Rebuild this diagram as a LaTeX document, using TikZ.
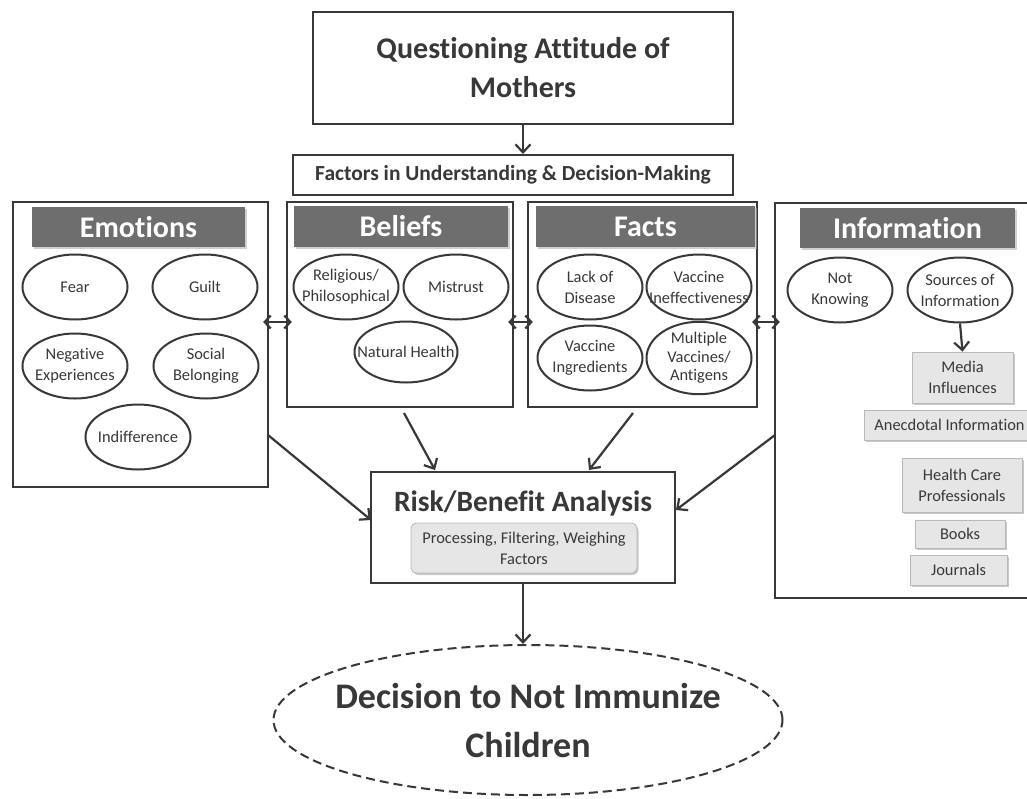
\documentclass[tikz,border=0pt]{standalone}
\usepackage{fontspec}
\setmainfont{Carlito}[Ligatures=NoCommon]
\usetikzlibrary{arrows.meta,shapes.geometric,shadows,calc}
\definecolor{ink}{HTML}{383838}
\definecolor{hdr}{HTML}{6E6E6E}
\definecolor{sub}{HTML}{E6E6E6}
\newcommand{\zw}[1]{\makebox[0pt]{#1}}
\tikzset{
  box/.style={draw=ink, line width=2.4pt, fill=white, inner sep=0pt},
  hdrbox/.style={fill=hdr, text=white, font=\bfseries\fontsize{30}{34}\selectfont, inner sep=0pt,
     drop shadow={shadow xshift=1.5pt, shadow yshift=-2pt, fill=gray!60, opacity=0.6}},
  oval/.style={ellipse, draw=ink, line width=2pt, inner sep=0pt, minimum width=105, minimum height=65,
     align=center, font=\fontsize{16.4}{21}\selectfont, text=ink},
  subbox/.style={draw=gray!55, line width=0.8pt, fill=sub, inner sep=0pt, align=center,
     font=\fontsize{16.4}{21}\selectfont, text=ink,
     drop shadow={shadow xshift=1.5pt, shadow yshift=-2pt, fill=gray!60, opacity=0.7}},
  arr/.style={draw=ink, line width=2.2pt, -{Straight Barb[length=8pt,width=15pt,line width=2.2pt]}},
  dbl/.style={draw=ink, line width=2.2pt, {Straight Barb[length=6pt,width=13pt,line width=2.2pt]}-{Straight Barb[length=6pt,width=13pt,line width=2.2pt]}},
}
\begin{document}
\begin{tikzpicture}[x=1pt,y=-1pt]
\clip (0,0) rectangle (1027,798);
\useasboundingbox (0,0) rectangle (1027,798);
\fill[white] (0,0) rectangle (1027,798);

% top
\node[box, minimum width=420, minimum height=112, align=center, text=ink,
      font=\bfseries\fontsize{30}{39}\selectfont] (top) at (523,68) {Questioning Attitude of\\Mothers};
\node[box, line width=2pt, minimum width=440, minimum height=40, text=ink,
      font=\bfseries\fontsize{21.5}{24}\selectfont] (factors) at (513,175) {Factors in Understanding \& Decision-Making};
\draw[arr] (top.south) -- (top.south |- factors.north);

% category boxes
\node[box, minimum width=255, minimum height=285] (emo) at (140.5,344.5) {};
\node[box, minimum width=226, minimum height=205] (bel) at (400,304.5) {};
\node[box, minimum width=229, minimum height=205] (fac) at (642.5,304.5) {};
\node[box, minimum width=265, minimum height=395] (info) at (907.5,400.5) {};

\node[hdrbox, minimum width=213, minimum height=40] (emoh) at (138.5,227) {Emotions};
\node[hdrbox, minimum width=214, minimum height=41] (belh) at (401,226.5) {Beliefs};
\node[hdrbox, minimum width=219, minimum height=41] (fach) at (645.5,226.5) {Facts};
\node[hdrbox, minimum width=215, minimum height=40] (infoh) at (907.5,228) {Information};

% emotions
\node[oval] (fear) at (75,287) {\zw{Fear}};
\node[oval] (guilt) at (205,287) {\zw{Guilt}};
\node[oval] (neg) at (75,366) {\zw{Negative}\\\zw{Experiences}};
\node[oval] (soc) at (206,366) {\zw{Social}\\\zw{Belonging}};
\node[oval] (indif) at (138,437) {\zw{Indifference}};

% beliefs
\node[oval] (relig) at (346,287) {\zw{Religious/}\\\zw{Philosophical}};
\node[oval] (mistrust) at (456,287) {\zw{Mistrust}};
\node[oval, minimum width=103, minimum height=61] (nat) at (406,352) {\zw{Natural Health}};

% facts
\node[oval] (lack) at (590,287) {\zw{Lack of}\\\zw{Disease}};
\node[oval] (ineff) at (699,287) {\zw{Vaccine}\\\zw{Ineffectiveness}};
\node[oval] (ingr) at (590,358) {\zw{Vaccine}\\\zw{Ingredients}};
\node[oval, font=\fontsize{16.4}{18.5}\selectfont] (multi) at (699,358) {\zw{Multiple}\\\zw{Vaccines/}\\\zw{Antigens}};

% information
\node[oval] (notk) at (840,290) {\zw{Not}\\\zw{Knowing}};
\node[oval] (src) at (960,290) {\zw{Sources of}\\\zw{Information}};
\node[subbox, minimum width=101, minimum height=51] (media) at (962.5,377.5) {Media\\Influences};
\node[subbox, minimum width=171, minimum height=30] (anec) at (949.5,425) {Anecdotal Information};
\node[subbox, minimum width=120, minimum height=54] (hcp) at (962,485) {Health Care\\Professionals};
\node[subbox, minimum width=90, minimum height=28] (books) at (960,534) {Books};
\node[subbox, minimum width=97, minimum height=30] (journ) at (958.5,570) {Journals};
\draw[arr] (src.south) -- (media.north);

% double arrows
\coordinate (ys) at (0,322);
\draw[dbl, shorten <=-6pt, shorten >=-6pt] (emo.east |- ys) -- (bel.west |- ys);
\draw[dbl, shorten <=-6pt, shorten >=-6pt] (bel.east |- ys) -- (fac.west |- ys);
\draw[dbl, shorten <=-6pt, shorten >=-6pt] (fac.east |- ys) -- (info.west |- ys);

% risk
\node[box, minimum width=304, minimum height=111] (risk) at (523,527.5) {};
\node[text=ink, font=\bfseries\fontsize{29.5}{32}\selectfont, inner sep=0pt] (risktitle) at (523,503) {Risk/Benefit Analysis};
\node[subbox, rounded corners=6pt, minimum width=226, minimum height=50] (proc) at (524,548) {Processing, Filtering, Weighing\\Factors};

\coordinate (e1) at (268,435);
\coordinate (e2) at (371,520);
\coordinate (b1) at (404,413);
\coordinate (b2) at (435,470);
\coordinate (f1) at (633,413);
\coordinate (f2) at (589,470);
\coordinate (i1) at (775,435);
\coordinate (i2) at (676,510);
\draw[arr] (e1) -- (e2);
\draw[arr] (b1) -- (b2);
\draw[arr] (f1) -- (f2);
\draw[arr] (i1) -- (i2);

% decision
\node[ellipse, draw=ink, line width=2pt, dash pattern=on 9pt off 5pt, minimum width=509, minimum height=150,
      align=center, text=ink, font=\bfseries\fontsize{36}{49}\selectfont, inner sep=0pt] (dec) at (528,720)
      {\zw{Decision to Not Immunize}\\\zw{Children}};
\draw[arr] (risk.south) -- (risk.south |- dec.north);
\end{tikzpicture}
\end{document}
